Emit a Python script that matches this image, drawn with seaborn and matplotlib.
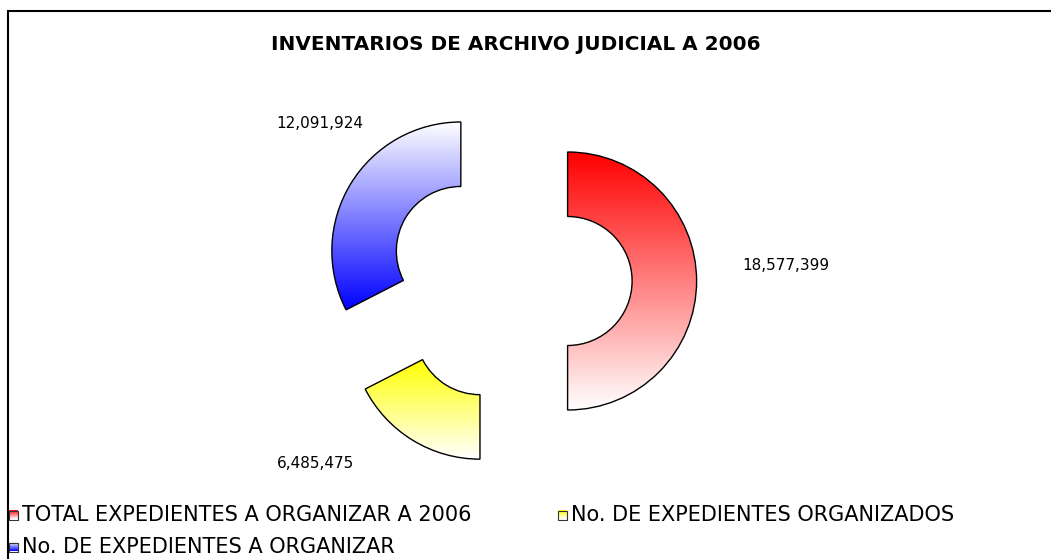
import numpy as np
import seaborn as sns
import matplotlib.pyplot as plt
from matplotlib.patches import Rectangle
from matplotlib.colors import to_rgb

sns.set_style("white")
plt.rcParams['font.family'] = ['DejaVu Sans']

title = "INVENTARIOS DE ARCHIVO JUDICIAL A 2006"
categories = ["TOTAL EXPEDIENTES A ORGANIZAR A 2006",
              "No. DE EXPEDIENTES ORGANIZADOS",
              "No. DE EXPEDIENTES A ORGANIZAR"]
values = [18577399, 6485475, 12091924]
colors = ["#ff0000", "#ffff00", "#0000ff"]
# which end of the gradient carries the full colour
color_on_top = [True, True, False]


def gradient(color, top):
    c = np.array(to_rgb(color))
    t = np.linspace(0, 1, 256)[:, None]
    if not top:
        t = t[::-1]
    g = c * (1 - t) + np.ones(3) * t
    return g[:, None, :]


W, H = 1051, 559
fig = plt.figure(figsize=(W / 100, H / 100), dpi=100)
ax = fig.add_axes([0, 0, 1, 1])

# work in pixel units: radius and explode are absolute
R = 129
wedges, _ = ax.pie(values, startangle=90, counterclock=False,
                   center=(510, H - 281), radius=R,
                   explode=[57.6] * len(values),
                   wedgeprops=dict(width=R * 0.5, edgecolor="black", linewidth=1.0))

for w, col, top in zip(wedges, colors, color_on_top):
    ext = w.get_path().get_extents()
    im = ax.imshow(gradient(col, top), extent=(ext.x0, ext.x1, ext.y0, ext.y1),
                   aspect='auto', interpolation='bilinear', zorder=1)
    im.set_clip_path(w)
    w.set_facecolor("none")
    w.set_zorder(2)

ax.axis('off')

# value labels
label_pos = [(786, 265), (315, 463), (320, 123)]
for v, (x, y) in zip(values, label_pos):
    ax.text(x, H - y, f"{v:,}", ha='center', va='center', fontsize=11, color="black")

ax.text(516, H - 44, title, ha='center', va='center', fontsize=14.4,
        fontweight='bold', color="black")

# legend
leg_pos = [(9, 515), (558, 515), (9, 547)]
for cat, col, top, (x, y) in zip(categories, colors, color_on_top, leg_pos):
    s = 9
    ax.imshow(gradient(col, top), extent=(x, x + s, H - y - s / 2, H - y + s / 2),
              aspect='auto', interpolation='bilinear', zorder=3)
    ax.add_patch(Rectangle((x, H - y - s / 2), s, s, fill=False, edgecolor="#333333",
                           linewidth=0.8, zorder=4))
    ax.text(x + 13, H - y, cat, ha='left', va='center', fontsize=15, color="black")

ax.set_xlim(0, W)
ax.set_ylim(0, H)
ax.set_aspect('auto')

# chart frame
ax.add_patch(Rectangle((8, -20), W + 20, H - 11 + 20, fill=False, edgecolor="black",
                       linewidth=1.5, clip_on=False, zorder=5))

fig.savefig("out.png", dpi=100)
